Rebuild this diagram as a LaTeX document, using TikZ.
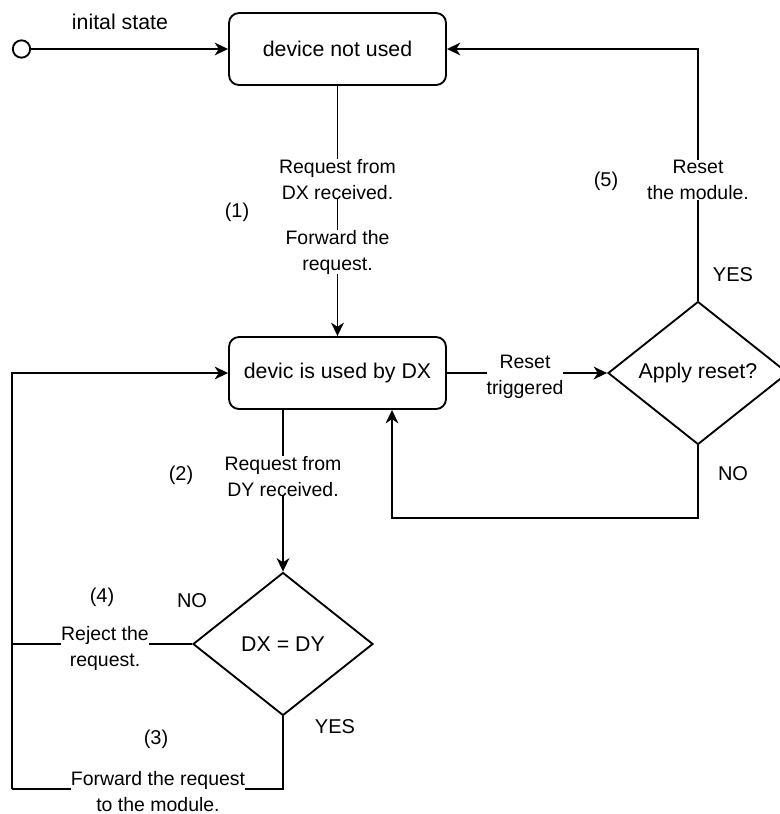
\documentclass[tikz,border=0pt]{standalone}
\usepackage{fontspec}
\setmainfont{Liberation Sans}
\usetikzlibrary{shapes.geometric,arrows.meta}
\begin{document}
\begin{tikzpicture}[x=0.75pt,y=-0.75pt,
  line width=1.4pt,
  state/.style={draw,rounded corners=7.5pt,minimum width=162.75pt,minimum height=54pt,
    inner sep=0pt,font=\fontsize{16}{19}\selectfont},
  decision/.style={draw,diamond,minimum width=135pt,minimum height=107.25pt,
    inner sep=0pt,font=\fontsize{16}{19}\selectfont},
  startdot/.style={draw,circle,minimum size=13pt,inner sep=0pt},
  flow/.style={-{Stealth[length=10pt,width=9.5pt,inset=3pt]}},
  edgelabel/.style={fill=white,inner sep=0pt,align=center,
    font=\fontsize{14.6}{19.5}\selectfont},
  note/.style={inner sep=0pt,align=center,font=\fontsize{15}{19}\selectfont}]
\useasboundingbox (0,0) rectangle (780,814);

% states and decisions
\node[startdot] (init) at (21.5,49) {};
\node[state] (idle) at (337.5,49) {device not used};
\node[state] (busy) at (337.5,373) {devic is used by DX};
\node[decision] (reset) at (698,373) {Apply reset?};
\node[decision] (same) at (283,644) {DX = DY};

% helper corners
\coordinate (lefttop) at (12,373);
\coordinate (leftmid) at (12,644);
\coordinate (leftbot) at (12,789);

% initial transition
\draw[flow] (init) -- (idle);
\node[note,font=\fontsize{16}{19}\selectfont] (initlbl) at (120,22) {inital state};

% (1) request from DX
\draw[flow] (idle) -- (busy)
  node[edgelabel,pos=0.373] (lblreq) {Request from\\DX received.}
  node[edgelabel,pos=0.665] (lblfwd) {Forward the\\request.};
\node[note] (n1) at (237,212) {(1)};

% reset branch
\draw[flow] (busy.east) -- (reset.west)
  node[edgelabel,midway,xshift=-1.5pt,yshift=-3pt] (lbltrig) {Reset\\triggered};
\draw[flow] (reset.north) |- (idle.east)
  node[edgelabel,pos=0.24] (lblrst) {Reset\\the module.};
\node[note] (n5) at (606,181) {(5)};
\node[note] (yes1) at (733,275) {YES};
\node[note] (no1) at (733,474) {NO};
\coordinate (backup) at (392,518);
\draw[flow] (reset.south) |- (backup) -- (busy.south -| backup);

% (2) request from DY
\draw[flow] (busy.south -| same.north) -- (same.north)
  node[edgelabel,pos=0.41] (lbldy) {Request from\\DY received.};
\node[note] (n2) at (181,475) {(2)};

% (4) reject
\draw (same.west) -- (leftmid);
\draw[flow] (leftbot) -- (lefttop) -- (busy.west);
\node[edgelabel] (lblrej) at (105,648) {Reject the\\request.};
\node[note] (n4) at (102,597) {(4)};
\node[note] (no2) at (192,601) {NO};

% (3) forward
\draw (same.south) |- (leftbot);
\node[edgelabel] (lblmod) at (158,792) {Forward the request\\to the module.};
\node[note] (n3) at (156,739) {(3)};
\node[note] (yes2) at (335,727) {YES};
\end{tikzpicture}
\end{document}
